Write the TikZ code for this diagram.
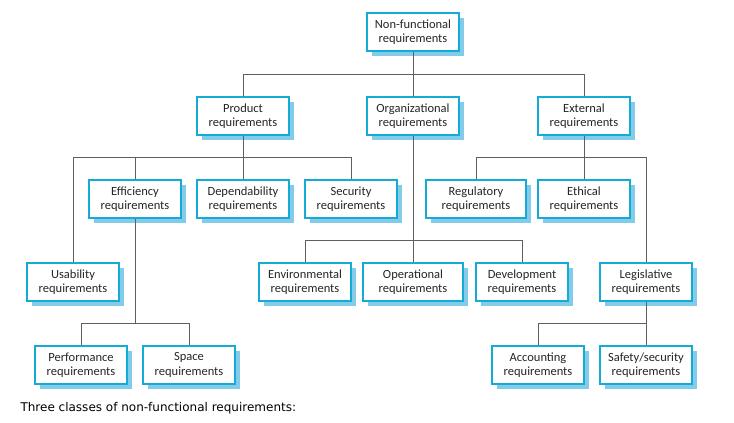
\documentclass[tikz,border=0pt]{standalone}
\usepackage{fontspec}
\setmainfont{Carlito}
\newfontfamily\capfont{DejaVu Sans}
\usepackage{xcolor}
\usepackage{tikz}
\usetikzlibrary{positioning}
\definecolor{boxcyan}{RGB}{20,172,214}
\definecolor{shadecyan}{RGB}{130,204,234}
\definecolor{linegray}{RGB}{95,95,95}
\tikzset{
  req/.style={draw=boxcyan, line width=1.5pt, fill=white, align=center,
    minimum width=92pt, minimum height=38pt, inner sep=1pt,
    font=\fontsize{12.5}{14.5}\selectfont, text=black!85},
  link/.style={draw=linegray, line width=0.8pt}
}
\begin{document}
\begin{tikzpicture}[x=1pt,y=-1pt]
			\useasboundingbox (0,0) rectangle (734,423);

			% bus levels
			\coordinate (bA) at (0,74);
			\coordinate (bB) at (0,157);
			\coordinate (bC) at (0,240);
			\coordinate (bD) at (0,323);

			% shadows first, as plain offset rectangles
			\foreach \cx/\cy/\w in {413/32/92,243/116/92,413/116/92,584/116/92,
					135/199/92,243/199/92,351/199/92,476/199/100,584/199/92,
					73/282/92,305/282/92,413/282/100,522/282/92,646/282/92,
					81/365/92,189/365/92,538/365/92,646/365/92} {
					\fill[shadecyan] (\cx-\w/2+5,\cy-19+5) rectangle (\cx+\w/2+5,\cy+19+5);
				}

			\node[req] (nfr) at (413,32) {Non-functional\\requirements};
			\node[req] (prod) at (243,116) {Product\\requirements};
			\node[req] (org) at (413,116) {Organizational\\requirements};
			\node[req] (ext) at (584,116) {External\\requirements};

			\node[req] (eff) at (135,199) {Efficiency\\requirements};
			\node[req] (dep) at (243,199) {Dependability\\requirements};
			\node[req] (sec) at (351,199) {Security\\requirements};
			\node[req, minimum width=100pt] (reg) at (476,199) {Regulatory\\requirements};
			\node[req] (eth) at (584,199) {Ethical\\requirements};

			\node[req] (usa) at (73,282) {Usability\\requirements};
			\node[req] (env) at (305,282) {Environmental\\requirements};
			\node[req, minimum width=100pt] (ope) at (413,282) {Operational\\requirements};
			\node[req] (dev) at (522,282) {Development\\requirements};
			\node[req] (leg) at (646,282) {Legislative\\requirements};

			\node[req] (perf) at (81,365) {Performance\\requirements};
			\node[req] (spa) at (189,365) {Space\\requirements};
			\node[req] (acc) at (538,365) {Accounting\\requirements};
			\node[req] (saf) at (646,365) {Safety/security\\requirements};

			% connectors
			\draw[link] (nfr) -- (org);
			\draw[link] (prod.north) |- (bA -| ext) -- (ext.north);

			\draw[link] (prod) -- (dep);
			\draw[link] (usa.north) |- (bB -| sec) -- (sec.north);
			\draw[link] (eff.north) -- (bB -| eff);

			\draw[link] (org) -- (ope);
			\draw[link] (env.north) |- (bC -| dev) -- (dev.north);

			\draw[link] (ext) -- (eth);
			\draw[link] (reg.north) |- (bB -| leg) -- (leg.north);

			\draw[link] (eff) -- (bD -| eff);
			\draw[link] (perf.north) |- (bD -| spa) -- (spa.north);

			\draw[link] (leg) -- (saf);
			\draw[link] (acc.north) |- (bD -| saf);

			\node[anchor=west, font=\capfont\fontsize{12}{14}\selectfont] (cap) at (17,408) {Three classes of non-functional requirements:};
		\end{tikzpicture}
\end{document}
